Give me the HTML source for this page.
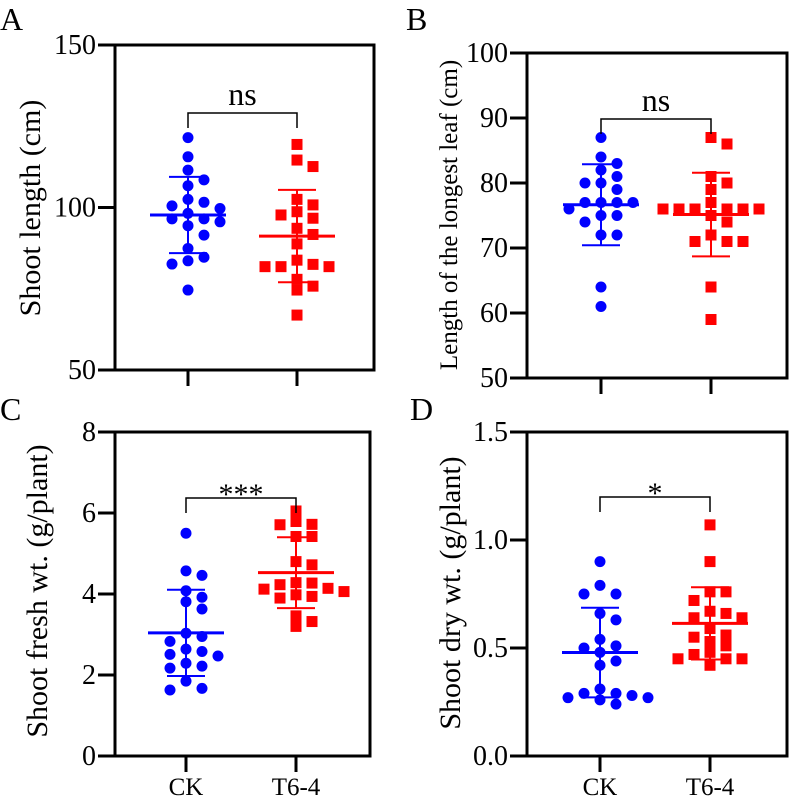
<!DOCTYPE html>
<html><head><meta charset="utf-8"><style>
html,body{margin:0;padding:0;background:#fff;}
svg text{font-family:"Liberation Serif",serif;}
</style></head><body>
<svg id="fig" width="789" height="796" viewBox="0 0 789 796" xmlns="http://www.w3.org/2000/svg"></svg>
<script>
const categories = ["CK","T6-4"];
const aCK = [121.5,115.6,111.5,108.5,106.7,102.5,100.5,98.2,99.7,101.6,96.5,96.5,95.6,94.4,91.5,87.4,84.7,83.6,82.6,74.6];
const aT6 = [119.4,114.6,112.6,102.5,100.8,97.7,98.7,96.7,93.6,91.7,88.8,83.8,81.8,81.8,81.8,82.5,77.9,75.8,74.6,66.9];
const bCK = [87,84,83,82,81,80,80,79,77,77,77,77,76,75,75,74,72,72,64,61];
const bT6 = [87,86,81,80,79,77,76,76,76,76,76,75,74,72,71,71,71,64,59,76];
const cCK = [5.5,4.46,4.57,4.08,3.92,3.81,3.63,2.83,2.95,3.03,2.47,2.51,2.58,2.64,2.29,2.17,2.22,1.85,1.63,1.67];
const cT6 = [6.05,5.79,5.72,5.71,5.42,5.42,4.80,4.72,4.28,4.23,4.27,4.12,4.14,4.06,3.94,3.98,3.9,3.46,3.32,3.2];
const dCK = [0.90,0.79,0.75,0.75,0.66,0.63,0.54,0.50,0.51,0.48,0.44,0.42,0.29,0.31,0.27,0.26,0.28,0.29,0.27,0.24];
const dT6 = [1.07,0.90,0.76,0.76,0.72,0.66,0.67,0.64,0.64,0.59,0.56,0.55,0.53,0.51,0.47,0.48,0.45,0.45,0.45,0.42];
const aTicks = [50,100,150];
const bTicks = [50,60,70,80,90,100];
const cTicks = [0,2,4,6,8];
const dTicks = [0,0.5,1.0,1.5];
const dTickLabels = ["0.0","0.5","1.0","1.5"];
const sigLabels = ["ns","ns","***","*"];

const NS="http://www.w3.org/2000/svg";
const svg=document.getElementById('fig');
function mk(tag,attrs,parent){const e=document.createElementNS(NS,tag);for(const k in attrs)e.setAttribute(k,attrs[k]);(parent||svg).appendChild(e);return e;}

function swarm(ys,r,step){
  const pts=[];
  const order=ys.map((y,i)=>i).sort((a,b)=>ys[a]-ys[b]);
  const res=new Array(ys.length).fill(0);
  order.forEach(i=>{
    const cands=[0];
    for(let k=1;k<8;k++){cands.push(k*step,-k*step);}
    for(const c of cands){
      let ok=true;
      for(const p of pts){const dx=p[0]-c,dy=p[1]-ys[i];if(dx*dx+dy*dy<(2*r*0.95)**2){ok=false;break;}}
      if(ok){res[i]=c;pts.push([c,ys[i]]);break;}
    }
  });
  return res;
}
function stats(a){const m=a.reduce((s,v)=>s+v,0)/a.length;const sd=Math.sqrt(a.reduce((s,v)=>s+(v-m)**2,0)/(a.length-1));return [m,sd];}

function panel(o){
  const g=mk('g',{});
  
  
  const y=v=>o.y0-(o.y0-o.y1)*(v-o.min)/(o.max-o.min);
  const cx=[o.cx0,o.cx1];
  const pl=mk('text',{x:o.lx,y:o.ly,'font-size':32},g);pl.textContent=o.letter;
  
  
  const fr=mk('rect',{x:o.l,y:o.y1,width:o.r-o.l,height:o.y0-o.y1,fill:'none',stroke:'#000','stroke-width':3},g);
  
  
  o.ticks.forEach((t,i)=>{
    const ty=y(t);
    const tl=mk('line',{x1:o.l-17,x2:o.l,y1:ty,y2:ty,stroke:'#000','stroke-width':3},g);
    
    
    const tx=mk('text',{x:o.l-19,y:ty+9,'font-size':28,'text-anchor':'end'},g);
    tx.textContent=o.tickLabels?o.tickLabels[i]:String(t);
    
    
  });
  cx.forEach((x,i)=>{
    const xl=mk('line',{x1:x,x2:x,y1:o.y0,y2:o.y0+16,stroke:'#000','stroke-width':3},g);
    
    
    if(o.xlabels){
      const xt=mk('text',{x:x,y:o.y0+39,'font-size':25,'text-anchor':'middle'},g);
      xt.textContent=categories[i];
      
      
    }
  });
  const tt=mk('text',{x:0,y:0,'font-size':o.tfs,'text-anchor':'middle',transform:`translate(${o.tx},${o.ty}) rotate(-90)`},g);
  tt.textContent=o.title;
  
  
  [o.ck,o.t6].forEach((arr,si)=>{
    const col=si?'#f00':'#00f';
    const ys=arr.map(y);
    const off=swarm(ys,5.5,16);
    arr.forEach((v,i)=>{
      let m;
      if(si===0){m=mk('circle',{cx:cx[si]+off[i],cy:y(v),r:5.5,fill:col},g);}
      else{m=mk('rect',{x:cx[si]+off[i]-5.5,y:y(v)-5.5,width:11,height:11,fill:col},g);}
      
    });
    const [mn,sd]=stats(arr);
    const ml=mk('line',{x1:cx[si]-38,x2:cx[si]+38,y1:y(mn),y2:y(mn),stroke:col,'stroke-width':3},g);
    
    
    const el=mk('path',{d:`M${cx[si]},${y(mn+sd)}V${y(mn-sd)}M${cx[si]-19},${y(mn+sd)}h38M${cx[si]-19},${y(mn-sd)}h38`,stroke:col,'stroke-width':2,fill:'none'},g);
    
    
  });
  const br=mk('path',{d:`M${cx[0]},${o.by+15}V${o.by}H${cx[1]}V${o.by+15}`,stroke:'#000','stroke-width':1.5,fill:'none'},g);
  
  
  const st=mk('text',{x:(cx[0]+cx[1])/2,y:o.by-(o.sig==='ns'?8:-6),'font-size':o.sig==='ns'?32:30,'text-anchor':'middle'},g);
  st.textContent=o.sig;
  
  
}
panel({name:'panel-a',letter:'A',lx:0,ly:30,l:115,r:374,y0:370,y1:45,min:50,max:150,cx0:188,cx1:297,ticks:aTicks,ck:aCK,t6:aT6,title:'Shoot length (cm)',tfs:30,tx:40,ty:208,by:113,sig:sigLabels[0]});
panel({name:'panel-b',letter:'B',lx:406,ly:30,l:527,r:787,y0:378,y1:53,min:50,max:100,cx0:601,cx1:711,ticks:bTicks,ck:bCK,t6:bT6,title:'Length of the longest leaf (cm)',tfs:25,tx:457,ty:215,by:119,sig:sigLabels[1]});
panel({name:'panel-c',letter:'C',lx:0,ly:420,l:115,r:370,y0:756,y1:432,min:0,max:8,cx0:186,cx1:296,ticks:cTicks,ck:cCK,t6:cT6,title:'Shoot fresh wt. (g/plant)',tfs:30,tx:47,ty:591,by:498,sig:sigLabels[2],xlabels:true});
panel({name:'panel-d',letter:'D',lx:410,ly:420,l:527,r:787,y0:756,y1:432,min:0,max:1.5,cx0:600,cx1:710,ticks:dTicks,tickLabels:dTickLabels,ck:dCK,t6:dT6,title:'Shoot dry wt. (g/plant)',tfs:30,tx:460,ty:593,by:497,sig:sigLabels[3],xlabels:true});
</script>
</body></html>
